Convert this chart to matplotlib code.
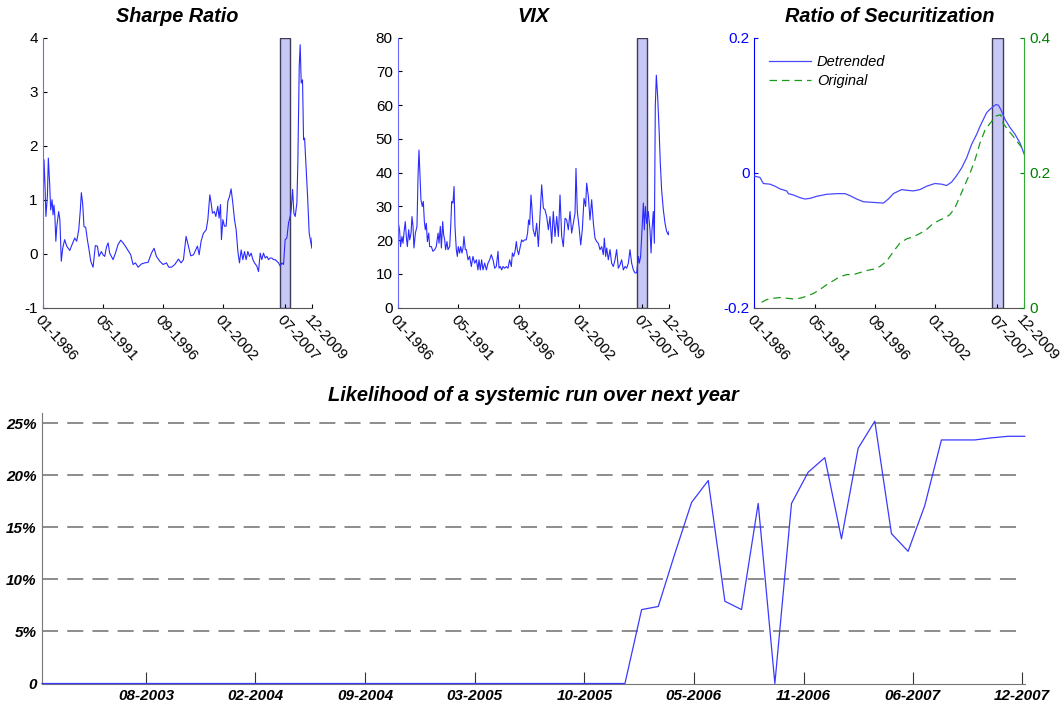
import matplotlib
matplotlib.use('Agg')
import matplotlib.pyplot as plt

plt.rcParams['font.family'] = ['Liberation Sans', 'DejaVu Sans']
plt.rcParams['axes.unicode_minus'] = False

# month index: 0 = 01-1986, 287 = 12-2009
top_ticks = [0, 64, 128, 192, 258, 287]
top_labels = ['01-1986', '05-1991', '09-1996', '01-2002', '07-2007', '12-2009']
band = (253, 264)

sharpe_m = [0, 1.4, 2.5, 3.4, 5, 6, 7.4, 8.5, 10, 11, 12, 13, 14, 15, 17, 18.3, 19.8, 21.3,
            23.4, 25.6, 28.8, 31.3, 34.1, 36.2, 38.4, 40.1, 41.2, 42.6, 44, 45.8, 47.6, 49.4,
            51.2, 53.7, 56.1, 58.3, 60, 62.5, 64.3, 66.1, 67.9, 69.7, 71.4, 73.2, 75, 77.5,
            80.3, 83.2, 85.7, 88.1, 91, 93.8, 96.3, 98.8, 101.7, 105.2, 108.8, 112.3, 115.9,
            118.7, 121.2, 124.8, 128.3, 131.9, 134.4, 137.2, 140.8, 144.7, 147.5, 150, 152.8,
            155.3, 157.8, 160.7, 163.1, 164.9, 166.7, 168.8, 171.3, 174.2, 176, 178.1, 179.5,
            180.9, 183, 184.5, 186.6, 188, 189.5, 190.5, 192, 193.7, 195.5, 197.3, 199.1,
            200.8, 202.6, 204.4, 206.2, 208, 209.7, 211.5, 213.3, 215.1, 216.8, 218.6, 220.4,
            222.2, 224, 225.7, 228.2, 230, 231.8, 233.5, 235.3, 237.1, 238.9, 240.7, 242.4,
            244.2, 246, 247.8, 249.5, 251.3, 253.1, 254.9, 256.7, 258.4, 260.2, 262, 263.8,
            264.8, 266.3, 267.7, 269.1, 270.9, 271.9, 273.4, 274.4, 275.5, 276.9, 278, 279.1,
            280.5, 282.3, 284, 285.8, 286.9, 287]
sharpe_v = [0.45, 1.74, 1.25, 0.69, 1.06, 1.77, 1.3, 0.81, 1.0, 0.72, 0.9, 0.69, 0.23, 0.5,
            0.78, 0.63, -0.14, 0.1, 0.26, 0.14, 0.06, 0.17, 0.29, 0.23, 0.44, 0.81, 1.13, 0.93,
            0.5, 0.49, 0.26, 0.07, -0.14, -0.25, 0.15, 0.14, -0.05, 0.04, -0.02, -0.05, 0.12,
            0.2, 0.01, -0.05, -0.11, 0.01, 0.17, 0.25, 0.2, 0.14, 0.06, -0.02, -0.2, -0.17,
            -0.25, -0.19, -0.17, -0.16, 0.01, 0.1, -0.05, -0.14, -0.2, -0.17, -0.25, -0.25,
            -0.2, -0.1, -0.17, -0.11, 0.32, 0.14, -0.04, -0.02, 0.07, 0.14, -0.02, 0.23, 0.38,
            0.44, 0.63, 1.09, 0.94, 0.75, 0.78, 0.69, 0.88, 0.66, 0.91, 0.26, 0.63, 0.51, 0.51,
            0.97, 1.06, 1.2, 0.94, 0.63, 0.44, 0.04, -0.17, 0.07, -0.11, 0.04, -0.11, 0.04,
            -0.05, 0.01, -0.11, -0.17, -0.23, -0.33, 0.01, -0.11, 0.01, -0.08, -0.05, -0.11,
            -0.08, -0.08, -0.11, -0.11, -0.14, -0.17, -0.23, -0.17, -0.2, 0.26, 0.29, 0.57,
            0.69, 0.81, 1.19, 0.75, 0.69, 0.94, 1.68, 3.47, 3.87, 3.16, 3.22, 2.11, 2.14, 1.68,
            1.06, 0.38, 0.2, 0.1, 0.29]

vix_m = [0, 1, 2, 3, 4.5, 5.6, 7, 8, 9.1, 10.2, 11.6, 12.7, 14.1, 15.1, 16.2, 17.2, 18.7,
         20.4, 21.5, 22.5, 23.6, 24.6, 26, 27.1, 28.2, 29.2, 30.3, 31.4, 32.8, 33.8, 35.6,
         37.3, 39.1, 40.8, 42.7, 43.7, 45.1, 46.2, 47.6, 48.6, 49.7, 50.7, 52.1, 53.2, 55,
         56, 57.1, 58.5, 59.6, 60.6, 62, 63.1, 64.1, 65.5, 66.6, 68, 69.1, 70.1, 71.5, 72.6,
         74.4, 76.1, 77.9, 79.6, 81.4, 83.2, 84.9, 86, 87.4, 88.8, 90.2, 92, 93.8, 95.5,
         97.3, 99, 100.8, 102.6, 104.3, 106.1, 107.2, 108.6, 110, 111.4, 113.2, 114.9, 116.7,
         118.4, 120.2, 121.3, 122.7, 124.1, 125.5, 126.5, 127.9, 129.7, 131.1, 132.5, 134.3,
         136, 137.4, 138.5, 139.6, 141, 142.1, 143.3, 145.3, 147, 148.8, 150.5, 152.3, 154.1,
         155.8, 157.6, 159.4, 161.1, 162.9, 164.6, 166.4, 168.2, 170, 171.7, 173.5, 175.2,
         177, 178.7, 180.5, 182.3, 184, 185.8, 187.6, 188.6, 190, 191.8, 193.6, 195.3, 197.1,
         198.8, 199.9, 201.7, 203.4, 205.2, 207, 208.7, 210.5, 212.2, 214, 215.8, 217.5,
         218.6, 220, 221.1, 222.8, 224.6, 226.3, 228.1, 229.9, 231.6, 233.4, 235.2, 236.9,
         238.7, 240.5, 242.2, 244, 245.7, 247.5, 249.3, 251, 252.8, 254.6, 255.6, 257, 258.4,
         259.9, 260.9, 262, 263.4, 265.1, 266.9, 268, 269, 270.4, 271.5, 272.5, 273.6, 275,
         276.4, 277.8, 279.2, 281, 282.8, 284.5, 286.3, 287]
vix_v = [18.1, 24.6, 23, 18.1, 21.1, 19.1, 23.1, 25.5, 21.1, 18.1, 23.1, 20.1, 22.1, 27, 24.1,
         17.7, 22.1, 24.1, 38.9, 46.7, 38.9, 32, 30, 31.5, 25.5, 23.1, 25, 19.6, 22.1, 18.1,
         18.1, 16.7, 17.2, 18.1, 22.1, 19.1, 24.1, 17.7, 25.5, 21.6, 20.1, 17.2, 19.6, 17.2,
         18.1, 23.6, 31.5, 31, 35.9, 24.1, 17.2, 15.2, 18.1, 16.2, 18.1, 16.2, 17.7, 21.1,
         17.2, 17.2, 14.2, 15.2, 12.2, 15.2, 13.2, 14.2, 11.2, 14.2, 11.2, 14.2, 11.2, 13.2,
         11.2, 13.2, 14.2, 15.7, 14.2, 11.7, 12.2, 16.7, 11.7, 12.2, 11.2, 12.2, 11.7, 12.2,
         11.7, 14.2, 12.2, 16.2, 15.2, 16.7, 19.6, 17.2, 15.7, 18.1, 20.1, 19.6, 20.1, 20.1,
         22.1, 26, 24.6, 33.4, 29, 23.1, 21.1, 25, 18.1, 27, 36.4, 29.5, 29, 27, 23.1, 27, 19.1,
         28.5, 21.1, 27, 21.1, 33.4, 21.1, 18.1, 26.5, 26, 23.1, 28.5, 22.1, 25, 28, 41.3,
         28.5, 24.1, 18.6, 23.1, 32.4, 30, 36.9, 32.9, 26, 32, 25, 20.6, 19.6, 19.1, 17.2,
         18.1, 15.7, 20.6, 15.2, 17.7, 14.2, 17.2, 13.2, 12.2, 14.2, 17.2, 11.7, 12.7, 14.2,
         11.2, 12.2, 11.7, 13.2, 17.2, 13.2, 11.2, 10.3, 10.3, 15.2, 13.2, 15.2, 23.1, 31,
         23.1, 30, 25, 28.5, 23.1, 16.2, 23.1, 28.5, 19.1, 59.6, 68.9, 62.5, 53.6, 42.8, 34.9,
         29, 25, 22.6, 21.6, 22.6]

detr_m = [0, 6, 9.6, 16.7, 22, 27.3, 34.4, 36.2, 41.5, 48.6, 53.9, 59.2, 66.3, 76.9, 87.6,
          96.4, 101.7, 108.8, 115.9, 126.5, 137.2, 142.5, 147.8, 156.6, 161.9, 169, 176.1,
          183.2, 192, 199.1, 204.4, 209.7, 214.7, 220.4, 225.7, 231, 236.4, 240, 243.5,
          247, 250.5, 254.9, 256.9, 259.4, 261.9, 266.5, 271.8, 277.1, 282.4, 287]
detr_v = [-0.005, -0.007, -0.016, -0.017, -0.02, -0.024, -0.027, -0.031, -0.033, -0.037,
          -0.039, -0.038, -0.035, -0.032, -0.031, -0.031, -0.034, -0.039, -0.043, -0.044,
          -0.045, -0.039, -0.031, -0.025, -0.026, -0.027, -0.025, -0.02, -0.016, -0.017,
          -0.019, -0.014, -0.005, 0.007, 0.022, 0.042, 0.057, 0.069, 0.079, 0.089, 0.094,
          0.099, 0.101, 0.1, 0.094, 0.079, 0.067, 0.057, 0.044, 0.027]

orig_m = [7.8, 13.1, 20.2, 27.3, 34.4, 41.5, 48.6, 55.6, 62.7, 69.8, 76.9, 84, 91.1, 98.2,
          105.3, 112.3, 119.4, 126.5, 133.6, 140.7, 147.8, 154.9, 162, 169, 176.1, 183.2,
          190.3, 197.4, 202.7, 208, 213.3, 218.6, 223.9, 229.2, 234.6, 239.9, 245.2, 250.5,
          256.9, 261.9, 264.6, 269.9, 275.2, 280.5, 285.8]
orig_v = [0.008, 0.012, 0.014, 0.015, 0.014, 0.013, 0.014, 0.017, 0.021, 0.027, 0.034,
          0.040, 0.046, 0.049, 0.049, 0.052, 0.055, 0.057, 0.061, 0.069, 0.083, 0.096,
          0.102, 0.105, 0.110, 0.116, 0.125, 0.130, 0.133, 0.138, 0.148, 0.165, 0.182,
          0.199, 0.219, 0.244, 0.263, 0.273, 0.284, 0.286, 0.273, 0.263, 0.254, 0.244, 0.235]

# bottom panel: monthly points, index 0 = 02-2003, 59 = 01-2008
run_prob = [0] * 36 + [7.1, 7.4, 12.5, 17.4, 19.5, 7.9, 7.1, 17.3, 0, 17.3, 20.3, 21.7,
                       13.9, 22.6, 25.2, 14.4, 12.7, 17.1, 23.4, 23.4, 23.4, 23.6, 23.75, 23.75]
bot_ticks = [6.26, 12.8, 19.42, 25.97, 32.57, 39.13, 45.73, 52.27, 58.84]
bot_labels = ['08-2003', '02-2004', '09-2004', '03-2005', '10-2005', '05-2006',
              '11-2006', '06-2007', '12-2007']
pct_ticks = [0, 5, 10, 15, 20, 25]
pct_labels = ['0', '5%', '10%', '15%', '20%', '25%']

W, H = 1062, 706
fig = plt.figure(figsize=(W / 100, H / 100), dpi=100)

LINE = '#2b2bff'
BAND_FACE = '#c8c8f6'
BAND_EDGE = '#3c3c55'
TITLE = dict(fontsize=14.3, fontweight='bold', fontstyle='italic', pad=11)


def style_top(ax, ylim, yticks):
    ax.set_xlim(0, 287)
    ax.set_ylim(*ylim)
    ax.set_yticks(yticks)
    for s in ['top', 'right']:
        ax.spines[s].set_visible(False)
    ax.spines['bottom'].set_color('#555555')
    ax.spines['left'].set_color('#6a6aff')
    ax.tick_params(direction='in', length=3, labelsize=11, width=0.8)
    ax.set_xticks(top_ticks)
    ax.set_xticklabels(top_labels, rotation=-48, ha='left', va='top',
                       rotation_mode='anchor', fontsize=11)
    ax.axvspan(band[0], band[1], facecolor=BAND_FACE, edgecolor=BAND_EDGE, lw=1.0, zorder=1)


ax1 = fig.add_axes([42.7 / W, 1 - 307.7 / H, 269.3 / W, 270 / H])
ax1.plot(sharpe_m, sharpe_v, color=LINE, lw=0.8, zorder=2)
style_top(ax1, (-1, 4), [-1, 0, 1, 2, 3, 4])
ax1.set_title('Sharpe Ratio', **TITLE)

ax2 = fig.add_axes([397.7 / W, 1 - 307.7 / H, 271.3 / W, 270 / H])
ax2.plot(vix_m, vix_v, color=LINE, lw=0.8, zorder=2)
style_top(ax2, (0, 80), list(range(0, 81, 10)))
ax2.set_title('VIX', **TITLE)

ax3 = fig.add_axes([754.3 / W, 1 - 307.7 / H, 270 / W, 270 / H])
l1, = ax3.plot(detr_m, detr_v, color='#4848ff', lw=0.9, zorder=3)
style_top(ax3, (-0.2, 0.2), [-0.2, 0, 0.2])
ax3.spines['left'].set_color('#0000ff')
ax3.tick_params(axis='y', colors='#0000ff', labelcolor='#0000ff')
ax3.set_yticklabels(['-0.2', '0', '0.2'])
ax3.set_title('Ratio of Securitization', **TITLE)
ax3b = ax3.twinx()
l2, = ax3b.plot(orig_m, orig_v, color='#1a9a1a', lw=0.9, dashes=(6, 4), zorder=3)
ax3b.set_ylim(0, 0.4)
ax3b.set_yticks([0, 0.2, 0.4])
ax3b.set_yticklabels(['0', '0.2', '0.4'])
for s in ['top', 'left', 'bottom']:
    ax3b.spines[s].set_visible(False)
ax3b.spines['right'].set_color('#33aa33')
ax3b.tick_params(direction='in', length=3, labelsize=11, colors='#008000')
ax3.legend([l1, l2], ['Detrended', 'Original'], loc='upper left', frameon=False,
           prop=dict(style='italic', size=10.5), handlelength=2.9, handletextpad=0.4,
           bbox_to_anchor=(0.0, 0.99), borderaxespad=0.6, labelspacing=0.35)

ax4 = fig.add_axes([42 / W, 1 - 683.5 / H, 982.7 / W, 270.2 / H])
ax4.plot(range(len(run_prob)), run_prob, color='#3a3aff', lw=0.9, zorder=3, clip_on=False)
ax4.set_xlim(0, len(run_prob) - 1)
ax4.set_ylim(0, 25.96)
for v in pct_ticks[1:]:
    ax4.axhline(v, color='#6e6e6e', lw=1.1, linestyle=(0, (10.5, 6)), zorder=1)
ax4.set_yticks(pct_ticks)
ax4.set_yticklabels(pct_labels, fontweight='bold', fontstyle='italic', fontsize=11)
ax4.set_xticks(bot_ticks)
ax4.set_xticklabels(bot_labels, fontweight='bold', fontstyle='italic', fontsize=11)
ax4.tick_params(axis='x', direction='in', length=9, width=0.8, color='#333333', pad=4)
ax4.tick_params(axis='y', length=0, pad=4)
for s in ['top', 'right']:
    ax4.spines[s].set_visible(False)
ax4.spines['left'].set_color('#777777')
ax4.spines['bottom'].set_color('#777777')
ax4.set_title('Likelihood of a systemic run over next year', fontsize=14.4,
              fontweight='bold', fontstyle='italic', pad=9)

fig.savefig('out.png', dpi=100)
